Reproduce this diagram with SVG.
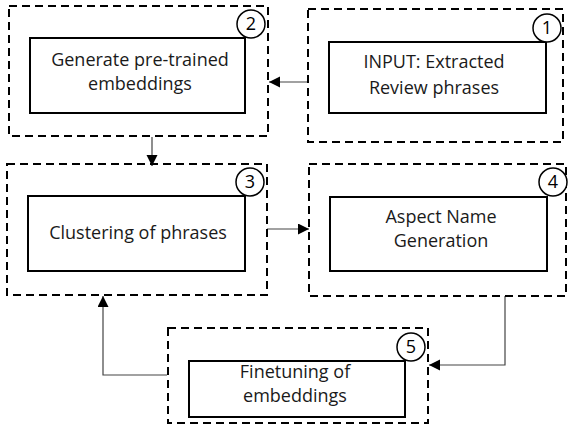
<svg xmlns="http://www.w3.org/2000/svg" width="568" height="425" viewBox="0 0 568 425">
  <style>
    .stage { fill: none; stroke: #000; stroke-width: 2; stroke-dasharray: 8 5; }
    .box { fill: #fff; stroke: #000; stroke-width: 2; }
    .badge { fill: #fff; stroke: #000; stroke-width: 1.5; }
    .label { font-family: "Open Sans", "Liberation Sans", sans-serif; font-size: 18px; fill: #1a1a1a; text-anchor: middle; }
    .num { font-family: "Open Sans", "Liberation Sans", sans-serif; font-size: 18px; fill: #000; text-anchor: middle; }
    .link { fill: none; stroke: #444; stroke-width: 1.2; }
  </style>
  <defs>
    <marker id="head" markerWidth="12" markerHeight="12" refX="11" refY="5.5" orient="auto" markerUnits="userSpaceOnUse">
      <path d="M0,0 L11,5.5 L0,11 Z" fill="#000"/>
    </marker>
  </defs>
  <rect width="568" height="425" fill="#fff"/>

  <!-- connectors -->
  <g id="connectors">
    <line class="link" x1="309" y1="82" x2="269" y2="82" marker-end="url(#head)"/>
    <line class="link" x1="152" y1="137" x2="152" y2="166" marker-end="url(#head)"/>
    <line class="link" x1="267" y1="229" x2="309" y2="229" marker-end="url(#head)"/>
    <polyline class="link" points="505,296 505,365 429,365" marker-end="url(#head)"/>
    <polyline class="link" points="167,375 103,375 103,296" marker-end="url(#head)"/>
  </g>

  <!-- step 1 -->
  <g id="step1">
    <rect class="stage" x="308" y="9" width="255" height="133"/>
    <rect class="box" x="329" y="42" width="217" height="71"/>
    <text class="label" x="434" y="68">INPUT: Extracted</text>
    <text class="label" x="434" y="94">Review phrases</text>
    <circle class="badge" cx="547" cy="28" r="14"/>
    <text class="num" x="547" y="34">1</text>
  </g>

  <!-- step 2 -->
  <g id="step2">
    <rect class="stage" x="9" y="6" width="259" height="130"/>
    <rect class="box" x="30" y="38" width="215" height="75"/>
    <text class="label" x="140" y="66">Generate pre-trained</text>
    <text class="label" x="140" y="90">embeddings</text>
    <circle class="badge" cx="251" cy="24" r="14"/>
    <text class="num" x="251" y="30">2</text>
  </g>

  <!-- step 3 -->
  <g id="step3">
    <rect class="stage" x="7" y="164" width="260" height="131"/>
    <rect class="box" x="28" y="196" width="217" height="75"/>
    <text class="label" x="138" y="239">Clustering of phrases</text>
    <circle class="badge" cx="250" cy="182" r="14"/>
    <text class="num" x="250" y="188">3</text>
  </g>

  <!-- step 4 -->
  <g id="step4">
    <rect class="stage" x="309" y="164" width="257" height="132"/>
    <rect class="box" x="330" y="197" width="217" height="74"/>
    <text class="label" x="441" y="223">Aspect Name</text>
    <text class="label" x="441" y="247">Generation</text>
    <circle class="badge" cx="553" cy="182" r="14"/>
    <text class="num" x="553" y="188">4</text>
  </g>

  <!-- step 5 -->
  <g id="step5">
    <rect class="stage" x="168" y="328" width="260" height="95"/>
    <rect class="box" x="189" y="361" width="216" height="56"/>
    <text class="label" x="295" y="378">Finetuning of</text>
    <text class="label" x="295" y="402">embeddings</text>
    <circle class="badge" cx="411" cy="347" r="14"/>
    <text class="num" x="411" y="353">5</text>
  </g>
</svg>
